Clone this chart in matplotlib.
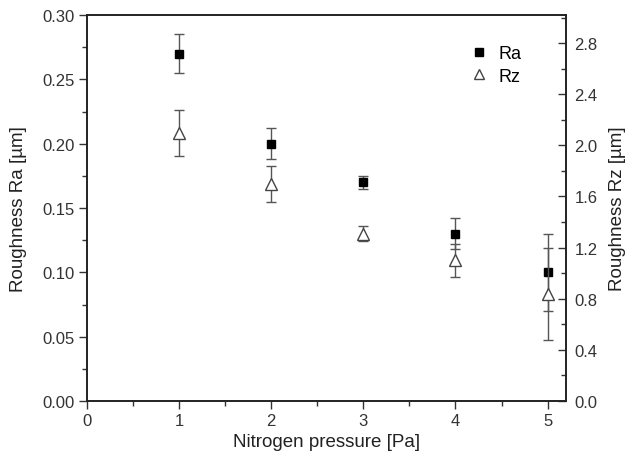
import matplotlib
matplotlib.use("Agg")
import matplotlib.pyplot as plt
from matplotlib.ticker import MultipleLocator, FixedLocator, FormatStrFormatter
from matplotlib.lines import Line2D

plt.rcParams['font.family'] = ['Liberation Sans', 'DejaVu Sans']

pressure = [1, 2, 3, 4, 5]
ra = [0.27, 0.20, 0.17, 0.13, 0.10]
ra_err = [0.015, 0.012, 0.005, 0.012, 0.03]
rz = [2.1, 1.7, 1.31, 1.1, 0.84]
rz_err = [0.18, 0.14, 0.06, 0.13, 0.36]

fig = plt.figure(figsize=(6.28, 4.64), dpi=100)
ax = fig.add_axes([87/628, 1-402/464, (566-87)/628, (402-16)/464])
ax2 = ax.twinx()

ebc = '#555555'
ax.errorbar(pressure, ra, yerr=ra_err, fmt='s', color='black', ms=6,
            ecolor=ebc, elinewidth=1, capsize=3.5, capthick=1)
ax2.errorbar(pressure, rz, yerr=rz_err, fmt='^', mfc='white', mec='#444444',
             ms=8, mew=1, ecolor=ebc, elinewidth=1, capsize=3.5, capthick=1)

ax.set_xlim(0, 5.2)
ax.set_ylim(0, 0.30)
ax2.set_ylim(0, 3.02)

ax.xaxis.set_major_locator(MultipleLocator(1))
ax.xaxis.set_minor_locator(MultipleLocator(0.5))
ax.yaxis.set_major_locator(MultipleLocator(0.05))
ax.yaxis.set_minor_locator(MultipleLocator(0.025))
ax.yaxis.set_major_formatter(FormatStrFormatter('%.2f'))
ax2.yaxis.set_major_locator(FixedLocator([0.0, 0.4, 0.8, 1.2, 1.6, 2.0, 2.4, 2.8]))
ax2.yaxis.set_minor_locator(FixedLocator([0.2, 0.6, 1.0, 1.4, 1.8, 2.2, 2.6, 3.0]))
ax2.yaxis.set_major_formatter(FormatStrFormatter('%.1f'))

tc = '#333333'
ax.tick_params(axis='both', which='major', direction='out', length=6, width=1,
               labelsize=12, colors=tc, labelcolor=tc, pad=3)
ax.tick_params(axis='both', which='minor', direction='out', length=3.5, width=1, colors=tc)
ax.tick_params(axis='x', top=False)
ax2.tick_params(axis='y', which='major', direction='in', length=6, width=1,
                labelsize=12, colors=tc, labelcolor=tc, pad=6)
ax2.tick_params(axis='y', which='minor', direction='in', length=3.5, width=1, colors=tc)

for a in (ax, ax2):
    for s in a.spines.values():
        s.set_linewidth(1.2)
        s.set_color('#222222')

ax.set_xlabel('Nitrogen pressure [Pa]', fontsize=13.5, color='#222222', labelpad=3)
ax.set_ylabel('Roughness Ra [µm]', fontsize=13.5, color='#222222', labelpad=11)
ax2.set_ylabel('Roughness Rz [µm]', fontsize=13.5, color='#222222', labelpad=8)

handles = [Line2D([], [], ls='none', marker='s', color='black', ms=5.5),
           Line2D([], [], ls='none', marker='^', mfc='white', mec='#444444', ms=7, mew=1)]
ax.legend(handles, ['Ra', 'Rz'], loc='upper left', bbox_to_anchor=(0.78, 0.945),
          frameon=False, fontsize=13, handletextpad=0.6, labelspacing=0.3,
          handlelength=1.0, borderpad=0)

fig.savefig('out.png', dpi=100)
